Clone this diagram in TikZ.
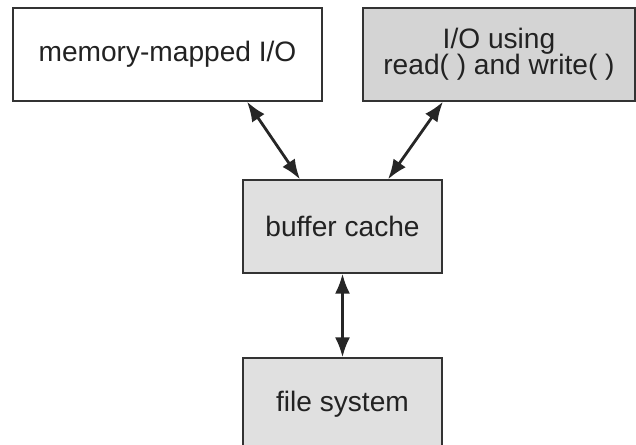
\documentclass[tikz,border=0pt]{standalone}
\usepackage{xcolor}
\usepackage{fontspec}
\setmainfont{Liberation Sans}
\usepackage{tikz}
\usetikzlibrary{arrows.meta,positioning}

\definecolor{boxline}{HTML}{333333}
\definecolor{boxtext}{HTML}{222222}
\definecolor{lightfill}{HTML}{E0E0E0}
\definecolor{darkfill}{HTML}{D4D4D4}

\newcommand{\layerfont}{\fontsize{16}{14.8}\selectfont\lineskiplimit=-100pt\relax}

\begin{document}
\begin{tikzpicture}[node distance=3.56cm, auto,
    layer/.style={rectangle, draw=boxline, line width=1pt, text=boxtext, inner sep=0pt,
        align=center, minimum height=1.85cm, font=\layerfont},
    link/.style={{Latex[length=4mm,width=3mm]}-{Latex[length=4mm,width=3mm]}, line width=1.6pt, draw=black!85}]
    \path[use as bounding box, clip] (0,0) rectangle (12.72,-8.88);

    \node [layer, fill=white, minimum width=6.18cm] (mmio) at (3.35,-1.09) {memory-mapped I/O};
    \node [layer, fill=darkfill, minimum width=5.44cm] (rwio) at (9.98,-1.09) {I/O using\\read( ) and write( )};
    \node [layer, fill=lightfill, minimum width=3.98cm] (cache) at (6.85,-4.53) {buffer cache};
    \node [layer, fill=lightfill, minimum width=3.98cm, below of=cache] (fs) {file system};

    \draw [link] ([xshift=1.59cm]mmio.south) -- ([xshift=-0.85cm]cache.north);
    \draw [link] ([xshift=-1.12cm]rwio.south) -- ([xshift=0.91cm]cache.north);
    \draw [link] (cache) -- (fs);
\end{tikzpicture}
\end{document}
